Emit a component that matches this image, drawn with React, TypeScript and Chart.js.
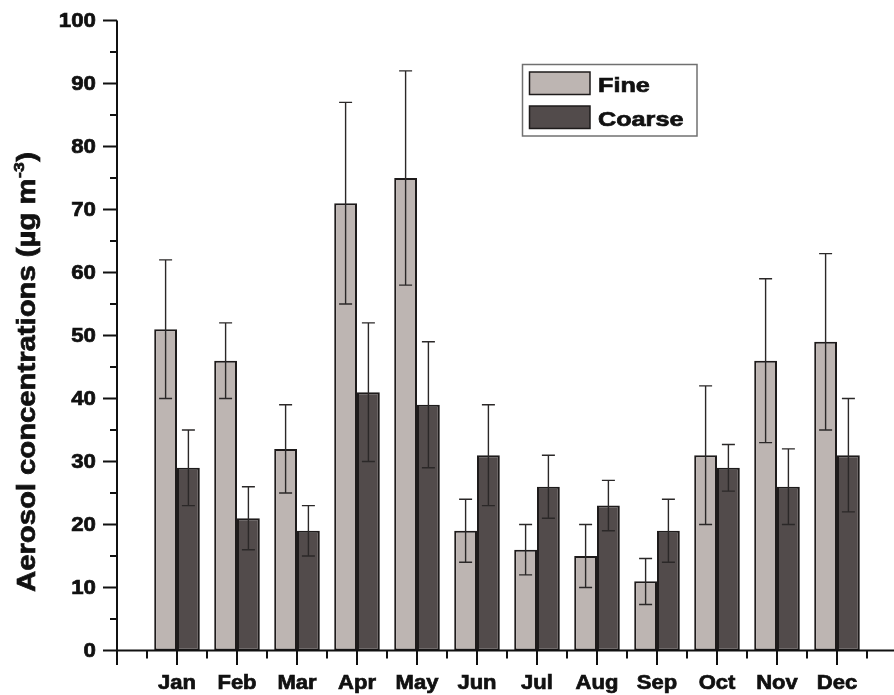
import React, { useEffect, useRef } from "react";
import { Chart, registerables } from "chart.js";

Chart.register(...registerables);

const months = ["Jan", "Feb", "Mar", "Apr", "May", "Jun", "Jul", "Aug", "Sep", "Oct", "Nov", "Dec"];
const fineMean = [51, 46, 32, 71, 75, 19, 16, 15, 11, 31, 46, 49];
const fineLow = [40, 40, 25, 55, 58, 14, 12, 10, 7.3, 20, 33, 35];
const fineHigh = [62, 52, 39, 87, 92, 24, 20, 20, 14.6, 42, 59, 63];
const coarseMean = [29, 21, 19, 41, 39, 31, 26, 23, 19, 29, 26, 31];
const coarseLow = [23, 16, 15, 30, 29, 23, 21, 19, 14, 25.3, 20, 22];
const coarseHigh = [35, 26, 23, 52, 49, 39, 31, 27, 24, 32.7, 32, 40];
const yTickValues = [0, 10, 20, 30, 40, 50, 60, 70, 80, 90, 100];
const yMinorValues = [5, 15, 25, 35, 45, 55, 65, 75, 85, 95];
const seriesNames = ["Fine", "Coarse"];

const FONT = '"Liberation Sans", Arial, Helvetica, sans-serif';
const FINE_COLOR = "#bdb5b2";
const COARSE_COLOR = "#524b4b";
const EDGE = "#1e1b1b";
const TEXT_STROKE = 0.7;

function stretchText(ctx: CanvasRenderingContext2D, text: string, x: number, y: number, sx: number, align: string) {
  const w = ctx.measureText(text).width * sx;
  const left = align === "left" ? x : align === "center" ? x - w / 2 : x - w;
  ctx.save();
  ctx.translate(left, y);
  ctx.scale(sx, 1);
  ctx.textAlign = "left";
  ctx.fillText(text, 0, 0);
  ctx.lineWidth = TEXT_STROKE;
  ctx.strokeStyle = ctx.fillStyle as string;
  ctx.strokeText(text, 0, 0);
  ctx.restore();
}

const lows = [fineLow, coarseLow];
const highs = [fineHigh, coarseHigh];

const customPlugin = {
  id: "customDraw",
  afterDatasetsDraw(chart: any) {
    const ctx: CanvasRenderingContext2D = chart.ctx;
    const yScale = chart.scales.y;
    ctx.save();
    ctx.strokeStyle = "#2b2828";
    ctx.lineWidth = 1.4;
    for (let d = 0; d < 2; d++) {
      const meta = chart.getDatasetMeta(d);
      meta.data.forEach((bar: any, i: number) => {
        const x = bar.x;
        const yh = yScale.getPixelForValue(highs[d][i]);
        const yl = yScale.getPixelForValue(lows[d][i]);
        ctx.beginPath();
        ctx.moveTo(x, yh);
        ctx.lineTo(x, yl);
        ctx.moveTo(x - 6.5, yh);
        ctx.lineTo(x + 6.5, yh);
        ctx.moveTo(x - 6.5, yl);
        ctx.lineTo(x + 6.5, yl);
        ctx.stroke();
      });
    }
    ctx.restore();
  },
  afterDraw(chart: any) {
    const ctx: CanvasRenderingContext2D = chart.ctx;
    const xs = chart.scales.x;
    const ys = chart.scales.y;
    const area = chart.chartArea;
    ctx.save();
    // axes lines
    ctx.strokeStyle = "#111";
    ctx.lineWidth = 2;
    ctx.beginPath();
    ctx.moveTo(area.left, ys.getPixelForValue(100));
    ctx.lineTo(area.left, area.bottom + 1);
    ctx.moveTo(area.left - 1, area.bottom);
    ctx.lineTo(chart.width, area.bottom);
    ctx.stroke();
    // y ticks
    ctx.beginPath();
    yTickValues.forEach((v) => {
      const y = ys.getPixelForValue(v);
      ctx.moveTo(area.left - 14, y);
      ctx.lineTo(area.left, y);
    });
    yMinorValues.forEach((v) => {
      const y = ys.getPixelForValue(v);
      ctx.moveTo(area.left - 7, y);
      ctx.lineTo(area.left, y);
    });
    // x ticks
    for (let k = 0; k <= months.length; k++) {
      const x = xs.getPixelForValue(k);
      ctx.moveTo(x, area.bottom);
      ctx.lineTo(x, area.bottom + 14.5);
      const xm = xs.getPixelForValue(k + 0.5);
      if (xm <= chart.width) {
        ctx.moveTo(xm, area.bottom);
        ctx.lineTo(xm, area.bottom + 8);
      }
    }
    ctx.stroke();
    // y tick labels
    ctx.fillStyle = "#111";
    ctx.textBaseline = "alphabetic";
    ctx.font = `bold 21px ${FONT}`;
    yTickValues.forEach((v) => {
      const y = ys.getPixelForValue(v);
      stretchText(ctx, String(v), area.left - 21, y + 6.5, 1.06, "right");
    });
    // x tick labels
    ctx.font = `bold 20px ${FONT}`;
    months.forEach((m, i) => {
      const x = xs.getPixelForValue(i + 1);
      stretchText(ctx, m, x, area.bottom + 38, 1.1, "center");
    });
    // legend
    ctx.strokeStyle = "#707070";
    ctx.lineWidth = 1.5;
    ctx.strokeRect(522.5, 64.5, 174.5, 71.5);
    const sw = [
      { c: FINE_COLOR, y: 72, base: 91.7 },
      { c: COARSE_COLOR, y: 106, base: 126 },
    ];
    ctx.font = `bold 21px ${FONT}`;
    sw.forEach((s, i) => {
      ctx.fillStyle = s.c;
      ctx.fillRect(529.5, s.y, 60.5, 22.5);
      ctx.strokeStyle = EDGE;
      ctx.lineWidth = 1.5;
      ctx.strokeRect(529.5, s.y, 60.5, 22.5);
      ctx.fillStyle = "#111";
      stretchText(ctx, seriesNames[i], 598, s.base, 1.2, "left");
    });
    // y axis title
    const sx = 1.17;
    const main = "Aerosol concentrations (\u00b5g m";
    const sup = "-3";
    const close = ")";
    ctx.font = `bold 25px ${FONT}`;
    const wMain = ctx.measureText(main).width;
    const wClose = ctx.measureText(close).width;
    ctx.font = `bold 15px ${FONT}`;
    const wSup = ctx.measureText(sup).width;
    const total = (wMain + wSup + wClose + 1) * sx;
    const cy = 372;
    ctx.translate(35, cy);
    ctx.rotate(-Math.PI / 2);
    ctx.scale(sx, 1);
    ctx.fillStyle = "#111";
    ctx.strokeStyle = "#111";
    ctx.lineWidth = TEXT_STROKE;
    ctx.textAlign = "left";
    let cx = -total / 2 / sx;
    ctx.font = `bold 25px ${FONT}`;
    ctx.fillText(main, cx, 0);
    ctx.strokeText(main, cx, 0);
    cx += wMain + 0.5;
    ctx.font = `bold 15px ${FONT}`;
    ctx.fillText(sup, cx, -11);
    ctx.strokeText(sup, cx, -11);
    cx += wSup + 0.5;
    ctx.font = `bold 25px ${FONT}`;
    ctx.fillText(close, cx, 0);
    ctx.strokeText(close, cx, 0);
    ctx.restore();
  },
};

export default function App() {
  const canvasRef = useRef<HTMLCanvasElement | null>(null);

  useEffect(() => {
    const canvas = canvasRef.current;
    if (!canvas) return;
    const chart = new Chart(canvas, {
      type: "bar",
      data: {
        datasets: [
          {
            label: seriesNames[0],
            data: fineMean.map((v, i) => ({ x: i + 1, y: v })),
            backgroundColor: FINE_COLOR,
            borderColor: EDGE,
            borderWidth: 2,
            borderSkipped: false,
            barPercentage: 1,
            categoryPercentage: 0.8,
          },
          {
            label: seriesNames[1],
            data: coarseMean.map((v, i) => ({ x: i + 1, y: v })),
            backgroundColor: COARSE_COLOR,
            borderColor: EDGE,
            borderWidth: 2,
            borderSkipped: false,
            barPercentage: 1,
            categoryPercentage: 0.8,
          },
        ],
      },
      options: {
        responsive: false,
        animation: false,
        events: [],
        layout: { padding: { top: 20.5, left: 0, right: 0, bottom: 0 } },
        plugins: {
          legend: { display: false },
          tooltip: { enabled: false },
          title: { display: false },
        },
        scales: {
          x: {
            type: "linear",
            min: 0,
            max: 12.95,
            offset: false,
            grid: { display: false },
            border: { display: false },
            ticks: { display: false },
            afterFit: (scale: any) => {
              scale.height = 44.5;
            },
          },
          y: {
            type: "linear",
            min: 0,
            max: 100,
            grid: { display: false },
            border: { display: false },
            ticks: { display: false },
            afterFit: (scale: any) => {
              scale.width = 117;
            },
          },
        },
      },
      plugins: [customPlugin],
    } as any);
    return () => chart.destroy();
  }, []);

  return (
    <div style={{ position: "absolute", left: 0, top: 0, width: 894, height: 695, background: "#fff" }}>
      <canvas ref={canvasRef} width={894} height={695} style={{ display: "block" }} />
    </div>
  );
}
